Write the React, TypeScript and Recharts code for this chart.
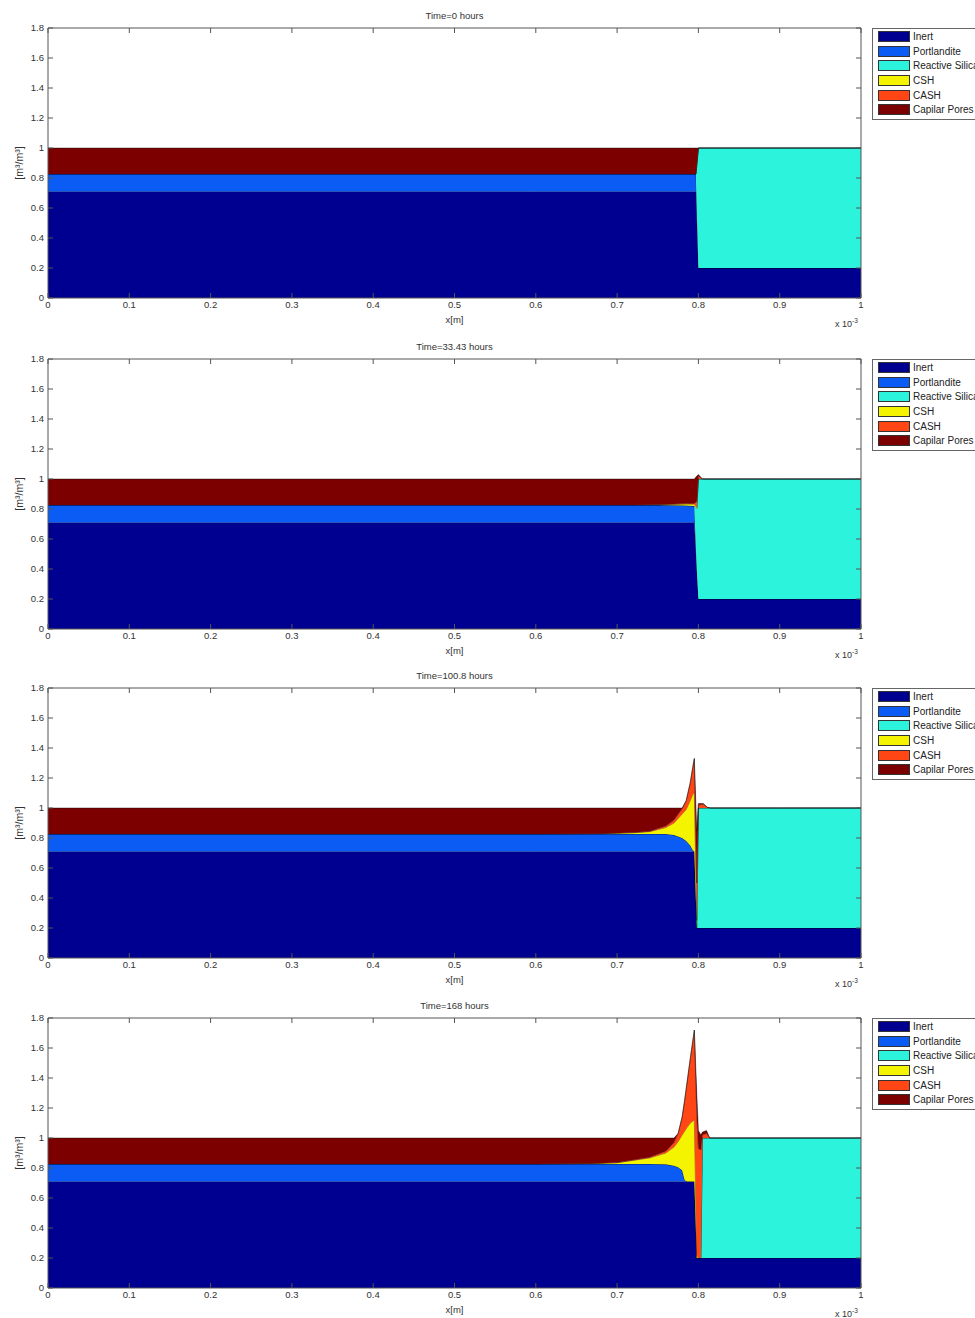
import { Area, AreaChart, Label, Legend, XAxis, YAxis } from "recharts";

const layerNames = ["Inert", "Portlandite", "Reactive Silica", "CSH", "CASH", "Capilar Pores"];
const xTicks = [0, 0.1, 0.2, 0.3, 0.4, 0.5, 0.6, 0.7, 0.8, 0.9, 1];
const yTicks = [0, 0.2, 0.4, 0.6, 0.8, 1, 1.2, 1.4, 1.6, 1.8];

// Time = 0 hours
const x0 = [0, 0.3, 0.6, 0.797, 0.8, 0.9, 1];
const inert0 = [0.71, 0.71, 0.71, 0.71, 0.2, 0.2, 0.2];
const port0 = [0.117, 0.117, 0.117, 0.117, 0, 0, 0];
const silica0 = [0, 0, 0, 0, 0.8, 0.8, 0.8];
const csh0 = [0, 0, 0, 0, 0, 0, 0];
const cash0 = [0, 0, 0, 0, 0, 0, 0];
const pores0 = [0.173, 0.173, 0.173, 0.173, 0, 0, 0];

// Time = 33.43 hours
const x1 = [0, 0.3, 0.6, 0.72, 0.75, 0.77, 0.785, 0.795, 0.798, 0.8, 0.805, 0.9, 1];
const inert1 = [0.71, 0.71, 0.71, 0.71, 0.71, 0.71, 0.71, 0.71, 0.4, 0.2, 0.2, 0.2, 0.2];
const port1 = [0.117, 0.117, 0.117, 0.117, 0.116, 0.115, 0.113, 0.11, 0, 0, 0, 0, 0];
const silica1 = [0, 0, 0, 0, 0, 0, 0, 0, 0.4, 0.8, 0.8, 0.8, 0.8];
const csh1 = [0, 0, 0, 0, 0.003, 0.006, 0.01, 0.012, 0.01, 0, 0, 0, 0];
const cash1 = [0, 0, 0, 0, 0.001, 0.002, 0.003, 0.005, 0.04, 0.02, 0, 0, 0];
const pores1 = [0.173, 0.173, 0.173, 0.173, 0.17, 0.167, 0.164, 0.163, 0.17, 0.01, 0, 0, 0];

// Time = 100.8 hours
const x2 = [0, 0.3, 0.6, 0.68, 0.72, 0.74, 0.76, 0.77, 0.78, 0.785, 0.79, 0.793, 0.795, 0.798, 0.8, 0.806, 0.811, 0.815, 0.9, 1];
const inert2 = [0.71, 0.71, 0.71, 0.71, 0.71, 0.71, 0.71, 0.71, 0.71, 0.71, 0.71, 0.71, 0.71, 0.2, 0.2, 0.2, 0.2, 0.2, 0.2, 0.2];
const port2 = [0.117, 0.117, 0.117, 0.117, 0.117, 0.117, 0.117, 0.11, 0.09, 0.07, 0.04, 0.01, 0, 0, 0, 0, 0, 0, 0, 0];
const silica2 = [0, 0, 0, 0, 0, 0, 0, 0, 0, 0, 0, 0, 0, 0, 0.8, 0.8, 0.8, 0.8, 0.8, 0.8];
const csh2 = [0, 0, 0, 0.002, 0.008, 0.015, 0.043, 0.08, 0.16, 0.21, 0.3, 0.37, 0.39, 0.05, 0, 0, 0, 0, 0, 0];
const cash2 = [0, 0, 0, 0, 0.001, 0.003, 0.01, 0.02, 0.035, 0.06, 0.12, 0.18, 0.23, 0.25, 0.02, 0.025, 0.005, 0, 0, 0];
const pores2 = [0.173, 0.173, 0.173, 0.171, 0.164, 0.155, 0.12, 0.08, 0.005, 0, 0, 0, 0, 0.35, 0.01, 0.005, 0, 0, 0, 0];

// Time = 168 hours
const x3 = [0, 0.3, 0.6, 0.67, 0.7, 0.74, 0.76, 0.77, 0.775, 0.78, 0.783, 0.786, 0.79, 0.795, 0.798, 0.8, 0.803, 0.805, 0.81, 0.814, 0.9, 1];
const inert3 = [0.71, 0.71, 0.71, 0.71, 0.71, 0.71, 0.71, 0.71, 0.71, 0.71, 0.71, 0.71, 0.71, 0.71, 0.2, 0.2, 0.2, 0.2, 0.2, 0.2, 0.2, 0.2];
const port3 = [0.117, 0.117, 0.117, 0.117, 0.117, 0.117, 0.115, 0.105, 0.095, 0.075, 0.01, 0, 0, 0, 0, 0, 0, 0, 0, 0, 0, 0];
const silica3 = [0, 0, 0, 0, 0, 0, 0, 0, 0, 0, 0, 0, 0, 0, 0, 0, 0, 0.8, 0.8, 0.8, 0.8, 0.8];
const csh3 = [0, 0, 0, 0.003, 0.008, 0.04, 0.075, 0.125, 0.17, 0.235, 0.325, 0.36, 0.39, 0.41, 0.02, 0, 0, 0, 0, 0, 0, 0];
const cash3 = [0, 0, 0, 0, 0.001, 0.005, 0.012, 0.03, 0.055, 0.12, 0.205, 0.3, 0.43, 0.6, 0.93, 0.73, 0.72, 0.02, 0.03, 0, 0, 0];
const pores3 = [0.173, 0.173, 0.173, 0.17, 0.164, 0.128, 0.088, 0.03, 0, 0, 0, 0, 0, 0, 0.15, 0.12, 0.1, 0.02, 0.02, 0, 0, 0];

const panels = [
  { title: "Time=0 hours", x: x0, layers: [inert0, port0, silica0, csh0, cash0, pores0] },
  { title: "Time=33.43 hours", x: x1, layers: [inert1, port1, silica1, csh1, cash1, pores1] },
  { title: "Time=100.8 hours", x: x2, layers: [inert2, port2, silica2, csh2, cash2, pores2] },
  { title: "Time=168 hours", x: x3, layers: [inert3, port3, silica3, csh3, cash3, pores3] },
];

const colors = ["#000090", "#0a5cf5", "#2cf3dc", "#f4f400", "#ff4614", "#7c0000"];
const panelTops = [0, 331, 660, 990];
const font = "'Liberation Sans', Arial, sans-serif";
const textColor = "#333";
const axisColor = "#555";

function toRows(x: number[], layers: number[][]) {
  return x.map((v, i) => {
    const row: Record<string, number> = { x: v };
    layers.forEach((l, k) => (row["l" + k] = l[i]));
    return row;
  });
}

function LegendBox() {
  return (
    <div style={{ border: "1px solid #666", background: "#fff", padding: "0 0 2px 5px", fontFamily: font, whiteSpace: "nowrap" }}>
      {layerNames.map((name, k) => (
        <div key={name} style={{ display: "flex", alignItems: "center", height: 14.7 }}>
          <span style={{ display: "inline-block", width: 32, height: 11, background: colors[k], border: "1px solid #333", boxSizing: "border-box", marginRight: 3 }} />
          <span style={{ fontSize: 10, color: "#222" }}>{name}</span>
        </div>
      ))}
    </div>
  );
}

function YLabel(props: any) {
  const vb = props.viewBox || { y: 28, height: 270 };
  const cx = 19;
  const cy = vb.y + vb.height / 2;
  return (
    <text x={cx} y={cy} transform={`rotate(-90 ${cx} ${cy})`} textAnchor="middle" dominantBaseline="central" fontSize={10.5} fill={textColor} fontFamily={font}>
      [m³/m³]
    </text>
  );
}

function Panel({ title, x, layers, top }: { title: string; x: number[]; layers: number[][]; top: number }) {
  const data = toRows(x, layers);
  const tickStyle = { fontSize: 9.5, fill: textColor, fontFamily: font };
  return (
    <div style={{ position: "absolute", left: 0, top, width: 975, height: 330 }}>
      <AreaChart width={975} height={330} data={data} margin={{ top: 27, right: 113, bottom: 0, left: 0 }}>
        <XAxis
          dataKey="x"
          type="number"
          domain={[0, 1]}
          ticks={xTicks}
          interval={0}
          allowDataOverflow
          height={32}
          tickSize={-5}
          tickMargin={8}
          tick={tickStyle}
          stroke={axisColor}
          tickFormatter={(v: number) => String(v)}
        >
          <Label value="x[m]" position="insideBottom" offset={7} fontSize={9.5} fill={textColor} fontFamily={font} />
        </XAxis>
        <XAxis
          xAxisId="top"
          dataKey="x"
          orientation="top"
          type="number"
          domain={[0, 1]}
          ticks={xTicks}
          interval={0}
          allowDataOverflow
          height={1}
          tickSize={-5}
          stroke={axisColor}
          tickFormatter={() => ""}
        >
          <Label value={title} position="top" offset={8} fontSize={9.5} fill={textColor} fontFamily={font} />
        </XAxis>
        <YAxis
          type="number"
          domain={[0, 1.8]}
          ticks={yTicks}
          interval={0}
          allowDataOverflow
          width={48}
          tickSize={-5}
          tickMargin={9}
          tick={tickStyle}
          stroke={axisColor}
          tickFormatter={(v: number) => String(v)}
        >
          <Label content={YLabel} />
        </YAxis>
        <YAxis
          yAxisId="right"
          orientation="right"
          type="number"
          domain={[0, 1.8]}
          ticks={yTicks}
          interval={0}
          allowDataOverflow
          width={1}
          tickSize={-5}
          stroke={axisColor}
          tickFormatter={() => ""}
        />
        <Legend layout="vertical" align="center" verticalAlign="middle" wrapperStyle={{ left: 872, top: 28 }} content={() => <LegendBox />} />
        {layerNames.map((name, k) => (
          <Area
            key={name}
            dataKey={"l" + k}
            name={name}
            stackId="s"
            type="linear"
            fill={colors[k]}
            fillOpacity={1}
            stroke="#000"
            strokeWidth={0.4}
            dot={false}
            activeDot={false}
            isAnimationActive={false}
          />
        ))}
        {/* invisible series so the box axes (top / right) get a scale */}
        <Area xAxisId="top" yAxisId="right" dataKey="l0" type="linear" fill="none" stroke="none" dot={false} activeDot={false} isAnimationActive={false} legendType="none" />
      </AreaChart>
      <div style={{ position: "absolute", left: 835, top: 317, fontSize: 9, color: textColor, fontFamily: font, whiteSpace: "nowrap" }}>
        x 10<sup style={{ fontSize: 6.5 }}>-3</sup>
      </div>
    </div>
  );
}

export default function App() {
  return (
    <div style={{ position: "absolute", left: 0, top: 0, width: 975, height: 1318, overflow: "hidden", background: "#fff" }}>
      {panels.map((p, i) => (
        <Panel key={p.title} title={p.title} x={p.x} layers={p.layers} top={panelTops[i]} />
      ))}
    </div>
  );
}
